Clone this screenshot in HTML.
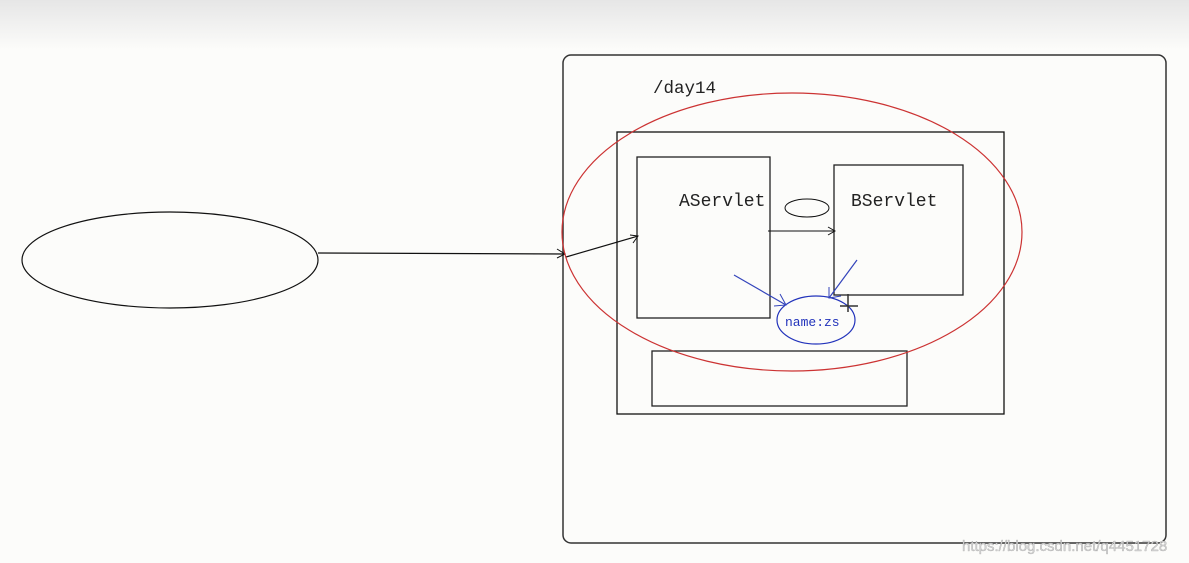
<!DOCTYPE html>
<html><head><style>
html,body{margin:0;padding:0;background:#fcfcfa;}
svg{display:block;}
text{font-family:"Liberation Mono",monospace;}
</style></head><body>
<svg width="1189" height="563" viewBox="0 0 1189 563" xmlns="http://www.w3.org/2000/svg">
<defs>
<linearGradient id="g" x1="0" y1="0" x2="0" y2="1">
<stop offset="0" stop-color="#e6e6e6"/><stop offset="1" stop-color="#fcfcfa"/>
</linearGradient>
</defs>
<rect x="0" y="0" width="1189" height="50" fill="url(#g)"/>
<rect x="563" y="55" width="603" height="488" rx="8" fill="none" stroke="#333" stroke-width="1.5"/>
<text x="653" y="93" font-size="17.5" fill="#222">/day14</text>
<ellipse cx="170" cy="260" rx="148" ry="48" fill="none" stroke="#111" stroke-width="1.2"/>
<line x1="318" y1="253" x2="565" y2="254" stroke="#111" stroke-width="1.2"/>
<polyline points="557,249 565,254 557,258" fill="none" stroke="#111"/>
<rect x="617" y="132" width="387" height="282" fill="none" stroke="#111" stroke-width="1.3"/>
<rect x="637" y="157" width="133" height="161" fill="none" stroke="#222" stroke-width="1.3"/>
<rect x="834" y="165" width="129" height="130" fill="none" stroke="#222" stroke-width="1.3"/>
<rect x="652" y="351" width="255" height="55" fill="none" stroke="#222" stroke-width="1.3"/>
<text x="679" y="206" font-size="18" fill="#222">AServlet</text>
<text x="851" y="206" font-size="18" fill="#222">BServlet</text>
<ellipse cx="807" cy="208" rx="22" ry="9" fill="none" stroke="#111"/>
<line x1="566" y1="257" x2="638" y2="236" stroke="#111" stroke-width="1.2"/>
<polyline points="630,235 638,236 633,243" fill="none" stroke="#111"/>
<line x1="768" y1="231" x2="835" y2="231" stroke="#111"/>
<polyline points="828,227 835,231 828,235" fill="none" stroke="#111"/>
<ellipse cx="792" cy="232" rx="230" ry="139" fill="none" stroke="#c33" stroke-width="1.2"/>
<ellipse cx="816" cy="320" rx="39" ry="24" fill="none" stroke="#2233bb" stroke-width="1.2"/>
<text x="785" y="326" font-size="13" fill="#2233bb">name:zs</text>
<line x1="734" y1="275" x2="786" y2="305" stroke="#3344bb" stroke-width="1.2"/>
<polyline points="780,294 786,305 774,306" fill="none" stroke="#3344bb"/>
<line x1="857" y1="260" x2="829" y2="298" stroke="#3344bb" stroke-width="1.2"/>
<polyline points="829,287 829,298 841,296" fill="none" stroke="#3344bb"/>
<line x1="848" y1="294" x2="848" y2="312" stroke="#333" stroke-width="1.5"/>
<line x1="840" y1="306" x2="858" y2="306" stroke="#333" stroke-width="1.5"/>
<text x="962" y="551" font-size="15" fill="#d6d6d6" stroke="#999" stroke-width="0.3" style="font-family:'Liberation Sans',sans-serif">https://blog.csdn.net/q4451728</text>
</svg>
</body></html>
